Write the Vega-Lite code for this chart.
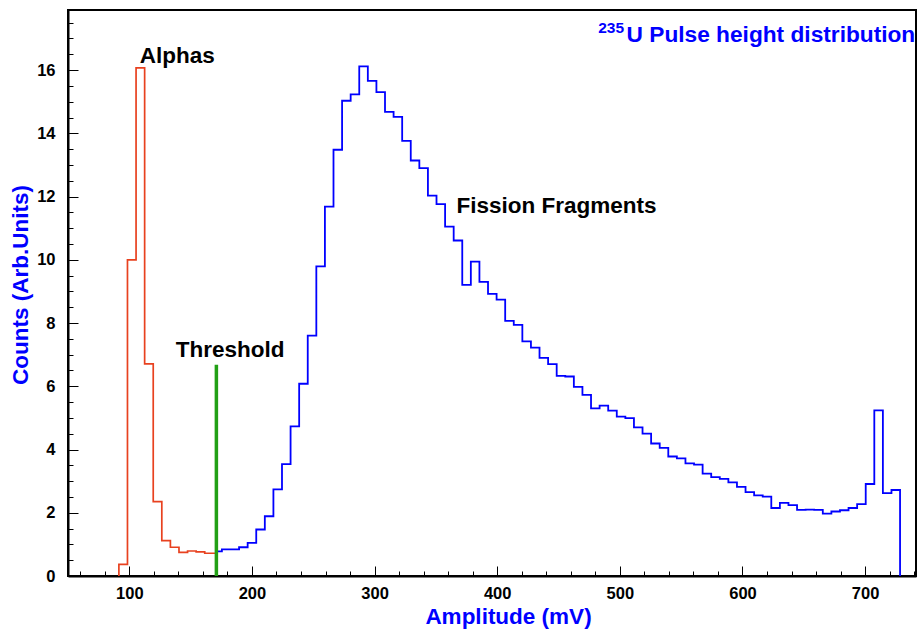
{
  "$schema": "https://vega.github.io/schema/vega-lite/v6.json",
  "width": 848,
  "height": 566,
  "autosize": {"type": "none"},
  "padding": {"left": 68, "top": 10, "right": 1, "bottom": 54},
  "background": "white",
  "config": {"view": {"stroke": "black", "strokeWidth": 2}, "font": "Liberation Sans"},
  "datasets": {
    "alpha": [
      {"mV": 91.5, "counts": 0},
      {"mV": 91.5, "counts": 0.37},
      {"mV": 98.5, "counts": 10.0},
      {"mV": 105.5, "counts": 16.07},
      {"mV": 112.5, "counts": 6.71},
      {"mV": 119.5, "counts": 2.35},
      {"mV": 126.5, "counts": 1.12},
      {"mV": 133.5, "counts": 0.91},
      {"mV": 140.5, "counts": 0.75},
      {"mV": 147.5, "counts": 0.79},
      {"mV": 154.5, "counts": 0.76},
      {"mV": 161.5, "counts": 0.72},
      {"mV": 171, "counts": 0.72}
    ],
    "fission": [
      {"mV": 171, "counts": 0.78},
      {"mV": 175.5, "counts": 0.84},
      {"mV": 182.5, "counts": 0.84},
      {"mV": 189.5, "counts": 0.91},
      {"mV": 196.5, "counts": 1.05},
      {"mV": 203.5, "counts": 1.47},
      {"mV": 210.5, "counts": 1.89},
      {"mV": 217.5, "counts": 2.74},
      {"mV": 224.5, "counts": 3.54},
      {"mV": 231.5, "counts": 4.73},
      {"mV": 238.5, "counts": 6.08},
      {"mV": 245.5, "counts": 7.60},
      {"mV": 252.5, "counts": 9.79},
      {"mV": 259.5, "counts": 11.68},
      {"mV": 266.5, "counts": 13.48},
      {"mV": 273.5, "counts": 15.03},
      {"mV": 280.5, "counts": 15.23},
      {"mV": 287.5, "counts": 16.12},
      {"mV": 294.5, "counts": 15.66},
      {"mV": 301.5, "counts": 15.30},
      {"mV": 308.5, "counts": 14.68},
      {"mV": 315.5, "counts": 14.52},
      {"mV": 322.5, "counts": 13.76},
      {"mV": 329.5, "counts": 13.14},
      {"mV": 336.5, "counts": 12.90},
      {"mV": 343.5, "counts": 12.03},
      {"mV": 350.5, "counts": 11.76},
      {"mV": 357.5, "counts": 11.05},
      {"mV": 364.5, "counts": 10.61},
      {"mV": 371.5, "counts": 9.21},
      {"mV": 378.5, "counts": 9.94},
      {"mV": 385.5, "counts": 9.30},
      {"mV": 392.5, "counts": 8.92},
      {"mV": 399.5, "counts": 8.74},
      {"mV": 406.5, "counts": 8.07},
      {"mV": 413.5, "counts": 7.94},
      {"mV": 420.5, "counts": 7.42},
      {"mV": 427.5, "counts": 7.22},
      {"mV": 434.5, "counts": 6.90},
      {"mV": 441.5, "counts": 6.70},
      {"mV": 448.5, "counts": 6.33},
      {"mV": 455.5, "counts": 6.31},
      {"mV": 462.5, "counts": 5.98},
      {"mV": 469.5, "counts": 5.73},
      {"mV": 476.5, "counts": 5.30},
      {"mV": 483.5, "counts": 5.39},
      {"mV": 490.5, "counts": 5.23},
      {"mV": 497.5, "counts": 5.04},
      {"mV": 504.5, "counts": 4.99},
      {"mV": 511.5, "counts": 4.70},
      {"mV": 518.5, "counts": 4.50},
      {"mV": 525.5, "counts": 4.19},
      {"mV": 532.5, "counts": 4.05},
      {"mV": 539.5, "counts": 3.78},
      {"mV": 546.5, "counts": 3.72},
      {"mV": 553.5, "counts": 3.56},
      {"mV": 560.5, "counts": 3.52},
      {"mV": 567.5, "counts": 3.24},
      {"mV": 574.5, "counts": 3.13},
      {"mV": 581.5, "counts": 3.07},
      {"mV": 588.5, "counts": 2.96},
      {"mV": 595.5, "counts": 2.82},
      {"mV": 602.5, "counts": 2.65},
      {"mV": 609.5, "counts": 2.55},
      {"mV": 616.5, "counts": 2.51},
      {"mV": 623.5, "counts": 2.15},
      {"mV": 630.5, "counts": 2.31},
      {"mV": 637.5, "counts": 2.24},
      {"mV": 644.5, "counts": 2.09},
      {"mV": 651.5, "counts": 2.10},
      {"mV": 658.5, "counts": 2.09},
      {"mV": 665.5, "counts": 1.97},
      {"mV": 672.5, "counts": 2.04},
      {"mV": 679.5, "counts": 2.08},
      {"mV": 686.5, "counts": 2.15},
      {"mV": 693.5, "counts": 2.27},
      {"mV": 700.5, "counts": 2.91},
      {"mV": 707.5, "counts": 5.24},
      {"mV": 714.5, "counts": 2.62},
      {"mV": 721.5, "counts": 2.72},
      {"mV": 728.5, "counts": 0}
    ],
    "threshold": [{"mV": 171, "counts": 0, "top": 6.68}],
    "labels": [
      {"label": "Alphas", "mV": 108.5, "counts": 16.22},
      {"label": "Threshold", "mV": 137.8, "counts": 6.94},
      {"label": "Fission Fragments", "mV": 366.8, "counts": 11.47}
    ],
    "title": [{"label": "U Pulse height distribution", "mV": 505.5, "counts": 16.9}],
    "sup": [{"label": "235", "mV": 482.3, "counts": 17.16}]
  },
  "layer": [
    {
      "data": {"name": "alpha"},
      "mark": {"type": "line", "interpolate": "step-after", "color": "#e8411f", "strokeWidth": 1.7},
      "encoding": {
        "x": {
          "field": "mV", "type": "quantitative",
          "scale": {"domain": [50, 741.5], "nice": false, "zero": false},
          "axis": {
            "orient": "bottom",
            "values": [100, 200, 300, 400, 500, 600, 700],
            "grid": false,
            "tickSize": -10, "tickWidth": 1, "tickColor": "black",
            "domainColor": "black", "domainWidth": 2,
            "labelFont": "Liberation Sans", "labelFontWeight": "bold", "labelFontSize": 16.5, "labelColor": "black",
            "labelPadding": 19, "labelBaseline": "top",
            "title": "Amplitude (mV)",
            "titleFont": "Liberation Sans", "titleFontWeight": "bold", "titleFontSize": 22.5, "titleColor": "#0000ff",
            "titleX": 440, "titleY": 47, "titleAlign": "center", "titleBaseline": "alphabetic"
          }
        },
        "y": {
          "field": "counts", "type": "quantitative",
          "scale": {"domain": [0, 17.9], "nice": false},
          "axis": {
            "orient": "left",
            "values": [0, 2, 4, 6, 8, 10, 12, 14, 16],
            "grid": false,
            "tickSize": -10, "tickWidth": 1, "tickColor": "black",
            "domainColor": "black", "domainWidth": 2,
            "labelFont": "Liberation Sans", "labelFontWeight": "bold", "labelFontSize": 16.5, "labelColor": "black",
            "labelPadding": 23, "labelAlign": "right", "labelBaseline": "middle",
            "title": "Counts (Arb.Units)",
            "titleFont": "Liberation Sans", "titleFontWeight": "bold", "titleFontSize": 22.5, "titleColor": "#0000ff",
            "titleX": -48, "titleY": 274.5, "titleAngle": -90, "titleAlign": "center", "titleBaseline": "middle"
          }
        }
      }
    },
    {
      "data": {"name": "fission"},
      "mark": {"type": "line", "interpolate": "step-after", "color": "#0000ff", "strokeWidth": 1.8},
      "encoding": {
        "x": {
          "field": "mV", "type": "quantitative",
          "scale": {"domain": [50, 741.5], "nice": false, "zero": false},
          "axis": {
            "orient": "bottom",
            "values": [60, 80, 120, 140, 160, 180, 220, 240, 260, 280, 320, 340, 360, 380, 420, 440, 460, 480, 520, 540, 560, 580, 620, 640, 660, 680, 720, 740],
            "grid": false, "labels": false, "domain": false, "title": null,
            "tickSize": -5, "tickWidth": 1, "tickColor": "black"
          }
        },
        "y": {
          "field": "counts", "type": "quantitative",
          "scale": {"domain": [0, 17.9], "nice": false},
          "axis": {
            "orient": "left",
            "values": [0.5, 1, 1.5, 2.5, 3, 3.5, 4.5, 5, 5.5, 6.5, 7, 7.5, 8.5, 9, 9.5, 10.5, 11, 11.5, 12.5, 13, 13.5, 14.5, 15, 15.5, 16.5, 17, 17.5],
            "grid": false, "labels": false, "domain": false, "title": null,
            "tickSize": -5, "tickWidth": 1, "tickColor": "black"
          }
        }
      }
    },
    {
      "data": {"name": "threshold"},
      "mark": {"type": "rule", "color": "#22a015", "strokeWidth": 3.5},
      "encoding": {
        "x": {"field": "mV", "type": "quantitative", "scale": {"domain": [50, 741.5], "nice": false, "zero": false}, "axis": null},
        "y": {"field": "counts", "type": "quantitative", "scale": {"domain": [0, 17.9], "nice": false}, "axis": null},
        "y2": {"field": "top"}
      }
    },
    {
      "data": {"name": "labels"},
      "mark": {"type": "text", "font": "Liberation Sans", "fontWeight": "bold", "fontSize": 22.5, "color": "black", "align": "left", "baseline": "alphabetic"},
      "encoding": {
        "x": {"field": "mV", "type": "quantitative", "scale": {"domain": [50, 741.5], "nice": false, "zero": false}, "axis": null},
        "y": {"field": "counts", "type": "quantitative", "scale": {"domain": [0, 17.9], "nice": false}, "axis": null},
        "text": {"field": "label"}
      }
    },
    {
      "data": {"name": "title"},
      "mark": {"type": "text", "font": "Liberation Sans", "fontWeight": "bold", "fontSize": 22.7, "color": "#0000ff", "align": "left", "baseline": "alphabetic"},
      "encoding": {
        "x": {"field": "mV", "type": "quantitative", "scale": {"domain": [50, 741.5], "nice": false, "zero": false}, "axis": null},
        "y": {"field": "counts", "type": "quantitative", "scale": {"domain": [0, 17.9], "nice": false}, "axis": null},
        "text": {"field": "label"}
      }
    },
    {
      "data": {"name": "sup"},
      "mark": {"type": "text", "font": "Liberation Sans", "fontWeight": "bold", "fontSize": 15.5, "color": "#0000ff", "align": "left", "baseline": "alphabetic"},
      "encoding": {
        "x": {"field": "mV", "type": "quantitative", "scale": {"domain": [50, 741.5], "nice": false, "zero": false}, "axis": null},
        "y": {"field": "counts", "type": "quantitative", "scale": {"domain": [0, 17.9], "nice": false}, "axis": null},
        "text": {"field": "label"}
      }
    }
  ],
  "resolve": {"axis": {"x": "independent", "y": "independent"}}
}
